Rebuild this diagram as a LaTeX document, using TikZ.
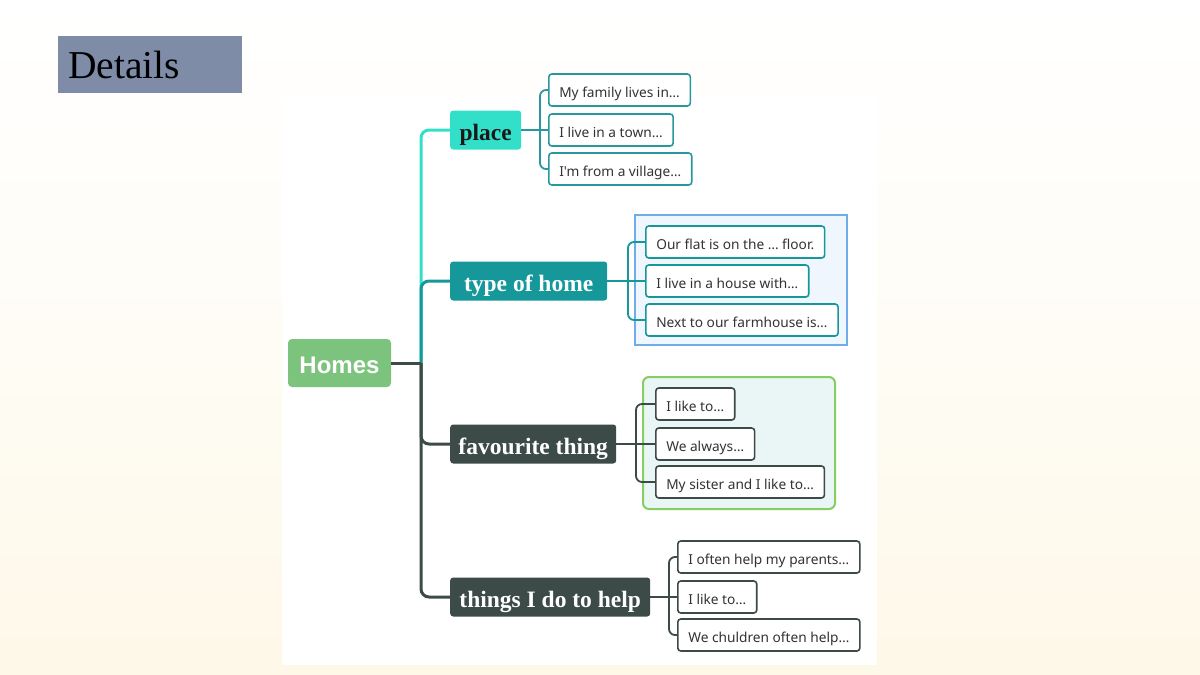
\documentclass[tikz,border=0pt]{standalone}
\usepackage{fontspec}
\newfontfamily\leaffont{Noto Sans}
\newfontfamily\serfont{Liberation Serif}
\newfontfamily\homefont{Liberation Sans}
\definecolor{cream}{RGB}{254,248,232}
\definecolor{detailblue}{RGB}{126,140,168}
\definecolor{turq}{RGB}{50,224,202}
\definecolor{tealc}{RGB}{22,152,155}
\definecolor{leafteal}{RGB}{40,152,158}
\definecolor{darkc}{RGB}{60,75,72}
\definecolor{homegreen}{RGB}{124,196,126}
\definecolor{textgray}{RGB}{51,51,51}
\definecolor{bluefill}{RGB}{239,246,254}
\definecolor{blueframe}{RGB}{112,172,234}
\definecolor{greenfill}{RGB}{234,246,245}
\definecolor{greenframe}{RGB}{134,205,99}
\begin{document}
\begin{tikzpicture}[x=1pt,y=-1pt,
  leafbox/.style={draw, rounded corners=3, fill=white, line width=1.6, inner xsep=10.5, inner ysep=0,
    minimum height=32, text height=14, text depth=0, anchor=west,
    font=\leaffont\fontsize{13.7}{16}\selectfont, text=textgray},
  mainbox/.style={rounded corners=3, minimum height=39, text height=20, text depth=0, anchor=west,
    inner xsep=0, inner ysep=0, font=\serfont\bfseries\fontsize{23.5}{26}\selectfont},
  trunkline/.style={line width=3, rounded corners=8},
  leafline/.style={line width=1.8, rounded corners=6}]
\useasboundingbox (0,0) rectangle (1200,675);
\shade[top color=white, bottom color=cream, middle color=white!60!cream] (0,0) rectangle (1200,675);
\fill[white] (282,97) rectangle (877,665);

% title
\node[fill=detailblue, anchor=north west, minimum height=57, text width=164, inner xsep=10, inner ysep=0, align=left,
  font=\serfont\fontsize{39.5}{42}\selectfont, text=black] (details) at (58,36) {Details};

% frames
\draw[fill=bluefill, draw=blueframe, line width=1.5] (635,215) rectangle (847,345);
\draw[fill=greenfill, draw=greenframe, line width=2, rounded corners=6] (643,377) rectangle (835,509);

% coordinates
\coordinate (tr) at (421,0);
\coordinate (b1) at (540,0);
\coordinate (b2) at (628,0);
\coordinate (b3) at (636,0);
\coordinate (b4) at (669,0);

% root
\node[fill=homegreen, rounded corners=4, minimum width=103, minimum height=48, inner sep=0,
  text height=20, text depth=0,
  font=\homefont\bfseries\fontsize{24}{26}\selectfont, text=white] (homes) at (339.5,363) {Homes};

% level 1
\node[mainbox, fill=turq, minimum width=71, text=black!90] (place) at (450,130) {place};
\node[mainbox, fill=tealc, minimum width=157, text=white] (type) at (450,281) {type of home};
\node[mainbox, fill=darkc, minimum width=166, text=white] (fav) at (450,444) {favourite thing};
\node[mainbox, fill=darkc, minimum width=200, text=white] (help) at (450,597) {things I do to help};

% trunk
\draw[trunkline, turq] (homes.east -| tr) |- (place.west);
\draw[trunkline, tealc] (homes.east -| tr) |- (type.west);
\draw[trunkline, darkc] (homes.east -| tr) |- (help.west);
\draw[trunkline, darkc] (homes.east -| tr) |- (fav.west);
\draw[line width=3, darkc] (homes.east) -- (homes.east -| tr);

% leaves: place
\node[leafbox, draw=leafteal] (p1) at (548,90) {My family lives in…};
\node[leafbox, draw=leafteal] (p2) at (548,130) {I live in a town…};
\node[leafbox, draw=leafteal] (p3) at (548,169) {I'm from a village…};
% leaves: type
\node[leafbox, draw=tealc] (t1) at (645,242) {Our flat is on the … floor.};
\node[leafbox, draw=tealc] (t2) at (645,281) {I live in a house with…};
\node[leafbox, draw=tealc] (t3) at (645,320) {Next to our farmhouse is…};
% leaves: favourite
\node[leafbox, draw=darkc] (f1) at (655,404) {I like to…};
\node[leafbox, draw=darkc] (f2) at (655,444) {We always…};
\node[leafbox, draw=darkc] (f3) at (655,482) {My sister and I like to…};
% leaves: help
\node[leafbox, draw=darkc] (h1) at (677,557) {I often help my parents…};
\node[leafbox, draw=darkc] (h2) at (677,597) {I like to…};
\node[leafbox, draw=darkc] (h3) at (677,635) {We chuldren often help…};

% brackets
\draw[leafline, leafteal] (place.east) -- (p2.west);
\draw[leafline, leafteal] (p1.west) -| (p3.west -| b1) -- (p3.west);
\draw[leafline, tealc] (type.east) -- (t2.west);
\draw[leafline, tealc] (t1.west) -| (t3.west -| b2) -- (t3.west);
\draw[leafline, darkc] (fav.east) -- (f2.west);
\draw[leafline, darkc] (f1.west) -| (f3.west -| b3) -- (f3.west);
\draw[leafline, darkc] (help.east) -- (h2.west);
\draw[leafline, darkc] (h1.west) -| (h3.west -| b4) -- (h3.west);
\end{tikzpicture}
\end{document}
